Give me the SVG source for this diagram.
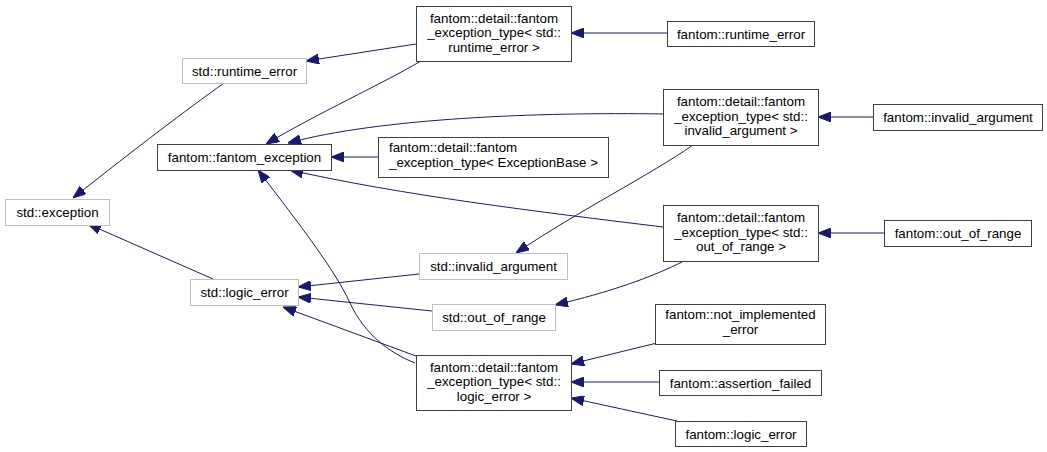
<svg xmlns="http://www.w3.org/2000/svg" width="1047" height="452" viewBox="0 0 1047 452">
<style>
.nb rect{fill:#fff;stroke:#404040;stroke-width:1}
.ng rect{fill:#fff;stroke:#bfbfbf;stroke-width:1}
text{font-family:"Liberation Sans",Arial,sans-serif;font-size:13.33px;fill:#000;text-anchor:middle}
.e{fill:none;stroke:#191970;stroke-width:1;marker-end:url(#arr)}
</style>
<defs>
<marker id="arr" markerUnits="userSpaceOnUse" markerWidth="13" markerHeight="10" refX="13" refY="5" orient="auto">
<path d="M0,0 L13,5 L0,10 z" fill="#191970" stroke="#191970" stroke-width="1"/>
</marker>
</defs>
<rect width="1047" height="452" fill="#fff"/>
<g id="connectors">
<path class="e" d="M224,83 C185,111 140,145 73,198"/>
<path class="e" d="M416,44 L306,61"/>
<path class="e" d="M421,61 C380,85 320,112 266,144"/>
<path class="e" d="M667,33 L571,33"/>
<path class="e" d="M663,114 C540,112 380,118 288,143"/>
<path class="e" d="M378,157 L331,157"/>
<path class="e" d="M663,227 C540,212 400,195 290,170"/>
<path class="e" d="M415,363 C390,353 365,335 350,303 C335,270 300,225 258,170"/>
<path class="e" d="M213,279 L88,224"/>
<path class="e" d="M419,274 L298,287"/>
<path class="e" d="M432,311 L298,297"/>
<path class="e" d="M416,356 L283,307"/>
<path class="e" d="M693,145 C650,175 580,210 516,253"/>
<path class="e" d="M684,261 C650,278 610,292 555,305"/>
<path class="e" d="M873,117 L818,117"/>
<path class="e" d="M884,233 L818,233"/>
<path class="e" d="M657,343 L571,364"/>
<path class="e" d="M659,382 L571,382"/>
<path class="e" d="M677,421 L571,398"/>
</g>
<g id="std_exception" class="ng"><rect x="5.5" y="199.5" width="104" height="26"/><text x="57.5" y="217">std::exception</text></g>
<g id="std_runtime_error" class="ng"><rect x="182.5" y="58.5" width="124" height="25"/><text x="244.5" y="75.5">std::runtime_error</text></g>
<g id="fantom_exception" class="nb"><rect x="157.5" y="144.5" width="174" height="26"/><text x="244.5" y="162">fantom::fantom_exception</text></g>
<g id="std_logic_error" class="ng"><rect x="190.5" y="279.5" width="108" height="26"/><text x="244.5" y="297">std::logic_error</text></g>
<g id="ft_runtime_error" class="nb"><rect x="416.5" y="6.5" width="155" height="55"/><text x="494" y="22.5">fantom::detail::fantom</text><text x="494" y="37">_exception_type&lt; std::</text><text x="494" y="51.5">runtime_error &gt;</text></g>
<g id="fantom_runtime_error" class="nb"><rect x="667.5" y="21.5" width="147" height="25"/><text x="741" y="38.5">fantom::runtime_error</text></g>
<g id="ft_exception_base" class="nb"><rect x="378.5" y="137.5" width="230" height="40"/><text x="389" y="152" style="text-anchor:start">fantom::detail::fantom</text><text x="389" y="166.5" style="text-anchor:start">_exception_type&lt; ExceptionBase &gt;</text></g>
<g id="ft_invalid_argument" class="nb"><rect x="663.5" y="89.5" width="155" height="56"/><text x="741" y="106">fantom::detail::fantom</text><text x="741" y="120.5">_exception_type&lt; std::</text><text x="741" y="135">invalid_argument &gt;</text></g>
<g id="fantom_invalid_argument" class="nb"><rect x="873.5" y="104.5" width="169" height="26"/><text x="958" y="122">fantom::invalid_argument</text></g>
<g id="std_invalid_argument" class="ng"><rect x="419.5" y="253.5" width="148" height="26"/><text x="493.5" y="271">std::invalid_argument</text></g>
<g id="ft_out_of_range" class="nb"><rect x="663.5" y="205.5" width="155" height="56"/><text x="741" y="222">fantom::detail::fantom</text><text x="741" y="236.5">_exception_type&lt; std::</text><text x="741" y="251">out_of_range &gt;</text></g>
<g id="fantom_out_of_range" class="nb"><rect x="884.5" y="220.5" width="147" height="26"/><text x="958" y="238">fantom::out_of_range</text></g>
<g id="std_out_of_range" class="ng"><rect x="432.5" y="304.5" width="123" height="26"/><text x="494" y="322">std::out_of_range</text></g>
<g id="ft_logic_error" class="nb"><rect x="416.5" y="355.5" width="155" height="55"/><text x="494" y="371.5">fantom::detail::fantom</text><text x="494" y="386">_exception_type&lt; std::</text><text x="494" y="400.5">logic_error &gt;</text></g>
<g id="fantom_not_implemented_error" class="nb"><rect x="655.5" y="304.5" width="170" height="40"/><text x="740.5" y="319">fantom::not_implemented</text><text x="740.5" y="333.5">_error</text></g>
<g id="fantom_assertion_failed" class="nb"><rect x="659.5" y="370.5" width="162" height="25"/><text x="740.5" y="387.5">fantom::assertion_failed</text></g>
<g id="fantom_logic_error" class="nb"><rect x="675.5" y="421.5" width="131" height="25"/><text x="741" y="438.5">fantom::logic_error</text></g>
</svg>
